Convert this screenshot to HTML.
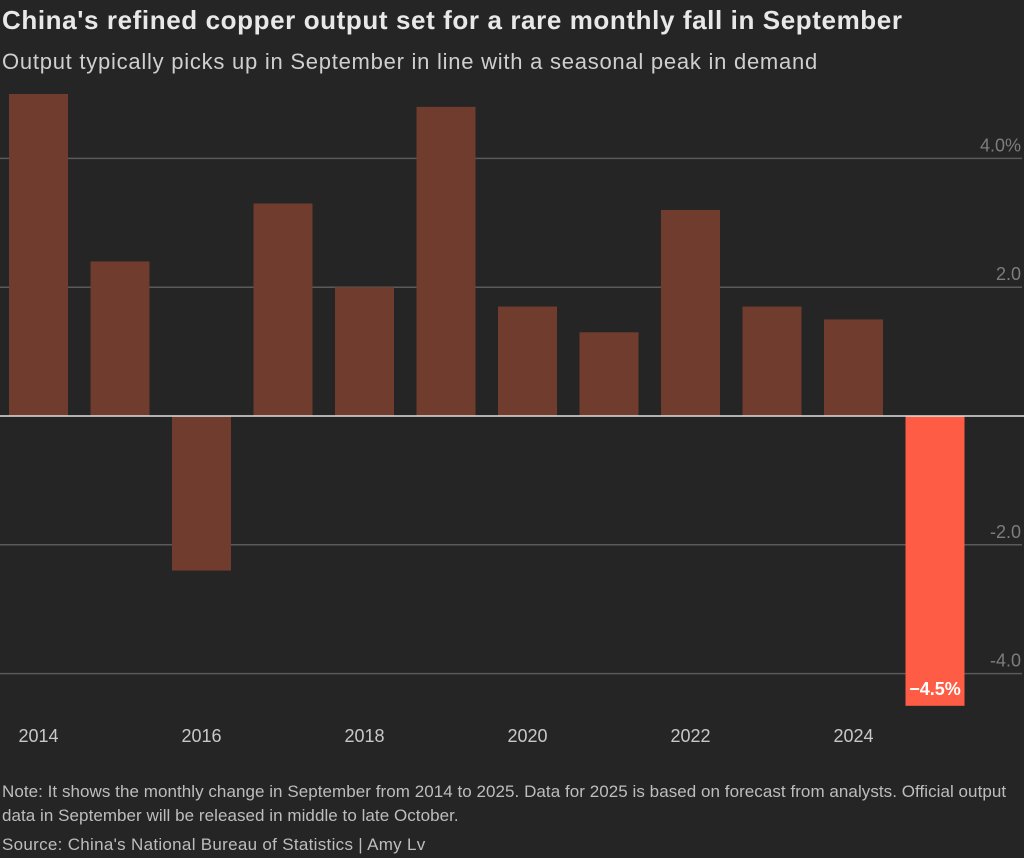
<!DOCTYPE html>
<html><head><meta charset="utf-8"><style>
body{margin:0;width:1024px;height:858px;background:#252525;font-family:"Liberation Sans",sans-serif;overflow:hidden;position:relative}
.t{position:absolute;left:2px;white-space:nowrap}
</style></head><body>
<div class="t" style="top:5px;font-size:26px;letter-spacing:0.6px;font-weight:bold;color:#e8e8e8">China's refined copper output set for a rare monthly fall in September</div>
<div class="t" style="top:49px;font-size:22px;letter-spacing:0.75px;color:#cfcfcf">Output typically picks up in September in line with a seasonal peak in demand</div>
<svg id="c" width="1024" height="760" style="position:absolute;left:0;top:0"></svg>
<div class="t" style="top:780px;font-size:17px;letter-spacing:0.05px;line-height:24px;color:#bdbdbd">Note: It shows the monthly change in September from 2014 to 2025. Data for 2025 is based on forecast from analysts. Official output<br>data in September will be released in middle to late October.</div>
<div class="t" style="top:835px;font-size:17px;letter-spacing:0.3px;color:#bdbdbd">Source: China's National Bureau of Statistics | Amy Lv</div>
<script>
const years=[2014,2015,2016,2017,2018,2019,2020,2021,2022,2023,2024,2025];
const values=[5.0,2.4,-2.4,3.3,2.0,4.8,1.7,1.3,3.2,1.7,1.5,-4.5];
const yTicks=[4,2,-2,-4];
const yTickLabels=["4.0%","2.0","-2.0","-4.0"];
const xTicks=[2014,2016,2018,2020,2022,2024];
const NS="http://www.w3.org/2000/svg",svg=document.getElementById('c');
const y=v=>416-v*64.4;
const x=yr=>9+(yr-2014)*81.5;
const bw=59;
function mk(t,a){const e=document.createElementNS(NS,t);for(const k in a)e.setAttribute(k,a[k]);svg.appendChild(e);return e;}
yTicks.forEach((v,i)=>{
 const l=mk('line',{x1:0,x2:1022,y1:y(v),y2:y(v),stroke:'#5a5a5a','stroke-width':1.5});
 
 
 const t=mk('text',{x:1021,y:y(v)-7,'text-anchor':'end','font-size':18,fill:'#7d7d7d'});
 t.textContent=yTickLabels[i];
 
 
});
values.forEach((v,i)=>{
 const last=i===values.length-1;
 const r=mk('rect',{x:x(years[i]),y:Math.min(y(v),y(0)),width:bw,height:Math.abs(y(v)-y(0)),fill:last?'#ff5c45':'#6f3c2d'});
 
 
 if(last){
  const t=mk('text',{x:x(years[i])+bw/2,y:y(v)-11,'text-anchor':'middle','font-size':18,'font-weight':'bold',fill:'#fff'});
  t.textContent='\u2212'+Math.abs(v).toFixed(1)+'%';
  
  
 }
});
const z=mk('line',{x1:0,x2:1024,y1:y(0),y2:y(0),stroke:'#e0e0e0','stroke-width':1.5});


xTicks.forEach(yr=>{
 const t=mk('text',{x:x(yr)+bw/2,y:742,'text-anchor':'middle','font-size':18,fill:'#c8c8c8'});
 t.textContent=yr;
 
 
});
</script>
</body></html>
